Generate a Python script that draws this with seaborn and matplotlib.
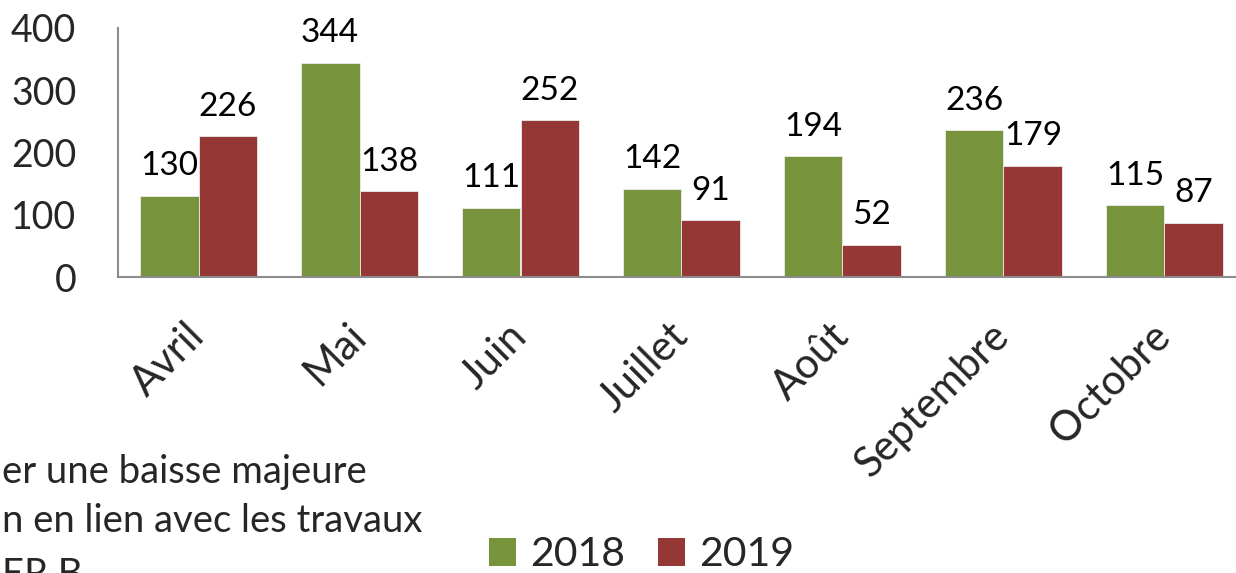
import matplotlib
matplotlib.use("Agg")
import matplotlib.pyplot as plt
import seaborn as sns
import pandas as pd
from matplotlib.patches import Patch

months = ["Avril", "Mai", "Juin", "Juillet", "Août", "Septembre", "Octobre"]
years = ["2018", "2019"]
values_2018 = [130, 344, 111, 142, 194, 236, 115]
values_2019 = [226, 138, 252, 91, 52, 179, 87]
y_ticks = [0, 100, 200, 300, 400]
note_lines = ["er une baisse majeure", "n en lien avec les travaux", "ER B"]

GREEN = "#77933C"
RED = "#953735"
AXIS = "#8C8C8C"

sns.set_theme(style="white")
plt.rcParams["font.family"] = ["Lato", "DejaVu Sans"]

df = pd.DataFrame({
    "month": months * 2,
    "year": [years[0]] * len(months) + [years[1]] * len(months),
    "value": values_2018 + values_2019,
})

W, H = 1236, 573
fig = plt.figure(figsize=(W / 100, H / 100), dpi=100)
ax = fig.add_axes([118 / W, 1 - 277 / H, (1245 - 118) / W, (277 - 28) / H])

sns.barplot(data=df, x="month", y="value", hue="year", order=months,
            hue_order=years, palette=[GREEN, RED], width=0.73, saturation=1,
            edgecolor="#ececec", linewidth=0.6, ax=ax, legend=False)

for cont in ax.containers:
    ax.bar_label(cont, padding=10.5, fontsize=24, color="black")

ax.set_xlim(-0.5, len(months) - 0.5)
ax.set_ylim(0, 400)
ax.set_yticks(y_ticks)
ax.set_yticklabels([str(t) for t in y_ticks], fontsize=27)
ax.tick_params(axis="y", length=0, pad=30)
ax.tick_params(axis="x", length=0, pad=38)
for lbl in ax.get_xticklabels():
    lbl.set_rotation(45)
    lbl.set_ha("right")
    lbl.set_rotation_mode("anchor")
    lbl.set_va("center")
    lbl.set_fontsize(30)
ax.set_xlabel("")
ax.set_ylabel("")
for s in ["top", "right"]:
    ax.spines[s].set_visible(False)
for s in ["left", "bottom"]:
    ax.spines[s].set_color(AXIS)
    ax.spines[s].set_linewidth(1.5)

handles = [Patch(facecolor=GREEN, edgecolor="none"), Patch(facecolor=RED, edgecolor="none")]
fig.legend(handles, years, loc="center left", bbox_to_anchor=(489 / W, 1 - 555 / H),
           ncol=2, frameon=False, fontsize=29.5, handlelength=0.66, handleheight=0.66,
           handletextpad=0.35, columnspacing=0.8, borderaxespad=0, borderpad=0)

baselines = [483, 532, 586]
for line, yb in zip(note_lines, baselines):
    fig.text(2 / W, 1 - yb / H, line, fontsize=27.5, ha="left", va="baseline")

fig.savefig("out.png", dpi=100)
